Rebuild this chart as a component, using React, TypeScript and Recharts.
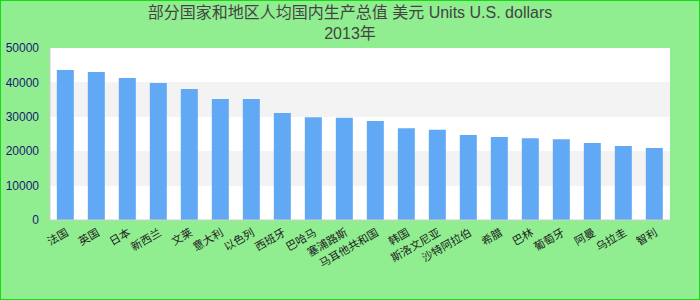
import { BarChart, Bar, XAxis, YAxis, CartesianGrid } from 'recharts';

const countries = [
  '法国', '英国', '日本', '新西兰', '文莱', '意大利', '以色列', '西班牙', '巴哈马', '塞浦路斯',
  '马耳他共和国', '韩国', '斯洛文尼亚', '沙特阿拉伯', '希腊', '巴林', '葡萄牙', '阿曼', '乌拉圭', '智利',
];
const gdpPerCapita = [
  43600, 43000, 41300, 39800, 38100, 35200, 35200, 31100, 29900, 29700,
  28800, 26700, 26200, 24700, 24100, 23800, 23500, 22400, 21500, 20900,
];
const yTicks = [0, 10000, 20000, 30000, 40000, 50000];
const titleLine1 = '部分国家和地区人均国内生产总值 美元 Units U.S. dollars';
const titleLine2 = '2013年';

const data = countries.map((name, i) => ({ name, value: gdpPerCapita[i] }));

const font = '"Liberation Sans", Arial, "Noto Sans CJK SC", sans-serif';

export default function App() {
  return (
    <div
      style={{
        position: 'fixed',
        left: 0,
        top: 0,
        width: 700,
        height: 300,
        boxSizing: 'border-box',
        border: '1px solid #11dd11',
        background: '#90ee90',
        fontFamily: font,
      }}
    >
      <div
        style={{
          position: 'absolute',
          top: 1,
          left: 0,
          width: 698,
          textAlign: 'center',
          fontSize: 16,
          lineHeight: '21px',
          color: '#444',
        }}
      >
        <div>{titleLine1}</div>
        <div>{titleLine2}</div>
      </div>
      <div style={{ position: 'absolute', left: -1, top: -1 }}>
        <BarChart
          width={700}
          height={300}
          data={data}
          margin={{ top: 48, right: 30, bottom: 0, left: 0 }}
          barCategoryGap="22%"
        >
          <CartesianGrid
            vertical={false}
            stroke="none"
            horizontalFill={['#ffffff', '#f3f3f3']}
            fillOpacity={1}
          />
          <XAxis
            dataKey="name"
            interval={0}
            height={80}
            tickLine={false}
            axisLine={{ stroke: '#cccccc' }}
            angle={-30}
            textAnchor="end"
            tick={{ fill: '#222', fontSize: 11, fontFamily: font }}
          />
          <XAxis xAxisId="top" orientation="top" dataKey="name" hide={false} height={0} tick={false} tickLine={false} axisLine={{ stroke: '#cccccc' }} />
          <YAxis
            domain={[0, 50000]}
            ticks={yTicks}
            width={50}
            tickLine={false}
            tickMargin={5}
            axisLine={{ stroke: '#cccccc' }}
            tick={{ fill: '#191970', fontSize: 12, fontFamily: font }}
          />
          <YAxis yAxisId="right" orientation="right" width={0} tick={false} tickLine={false} axisLine={{ stroke: '#cccccc' }} />
          <Bar dataKey="value" fill="#62a9f5" isAnimationActive={false} />
        </BarChart>
      </div>
    </div>
  );
}
